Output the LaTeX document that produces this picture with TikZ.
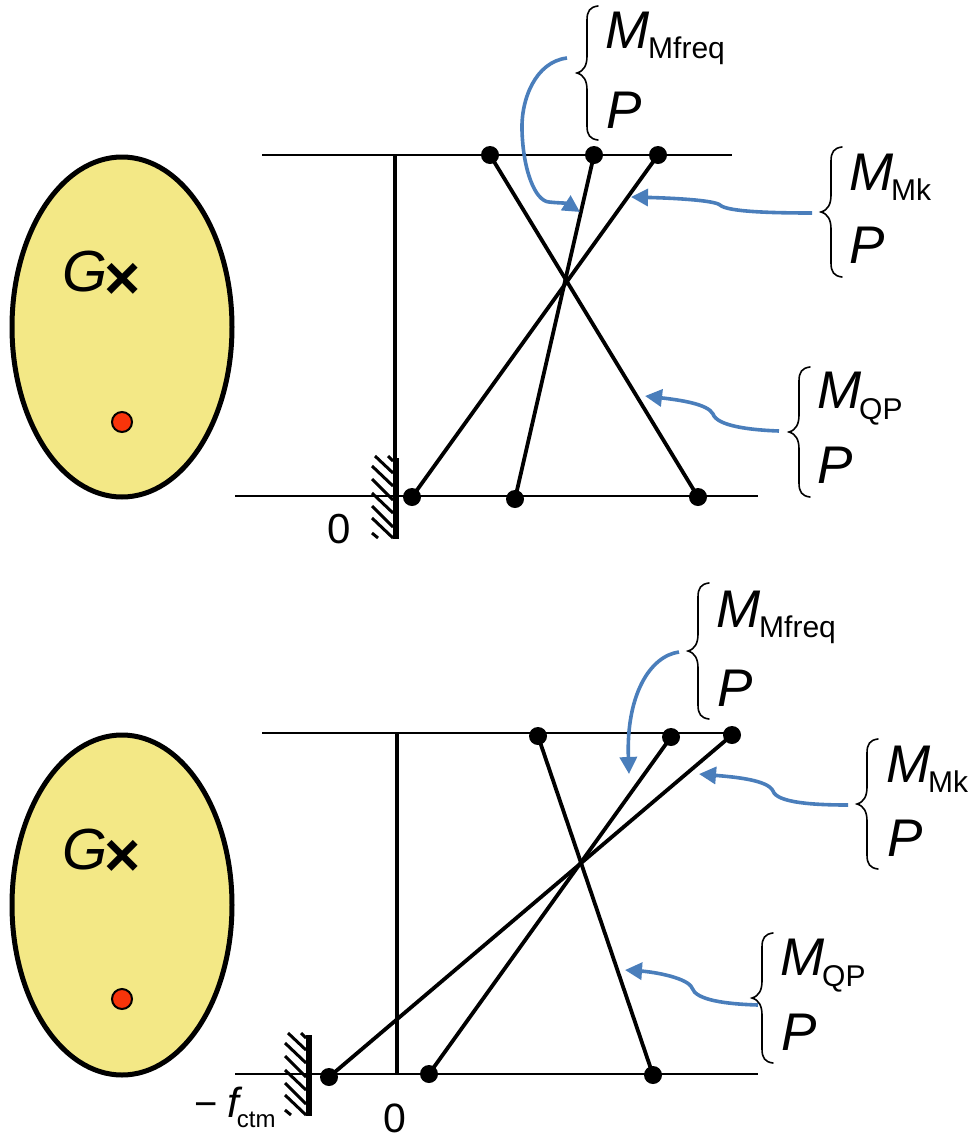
\documentclass[tikz,border=0pt]{standalone}
\usepackage{fontspec}
\setmainfont{Liberation Sans}
\usetikzlibrary{arrows.meta}
\definecolor{bodyfill}{HTML}{F3E886}
\definecolor{pointred}{HTML}{F8340A}
\definecolor{arrowblue}{HTML}{4A7EBB}
\tikzset{
  x=1pt,y=-1pt,
  bodyshape/.style={draw=black,line width=5pt,fill=bodyfill},
  axisline/.style={line width=2.2pt},
  ray/.style={line width=3.8pt},
  optaxis/.style={line width=4pt},
  wall/.style={line width=6pt},
  hatchline/.style={line width=3pt},
  dotnode/.style={circle,fill=black,inner sep=0pt,minimum size=18pt},
  reddot/.style={circle,draw=black,line width=2pt,fill=pointred,inner sep=0pt,minimum size=20pt},
  callout/.style={draw=arrowblue,line width=3.6pt,-{Triangle[length=17pt,width=17pt]}},
  bracestyle/.style={line width=1.6pt,line cap=round},
  label/.style={inner sep=0pt,anchor=base west,font=\fontsize{53}{53}\selectfont\itshape},
  biglabel/.style={inner sep=0pt,anchor=base west,font=\fontsize{58}{58}\selectfont\itshape},
  crossmark/.style={inner sep=0pt,font=\fontsize{62}{62}\selectfont\bfseries},
  plainlabel/.style={inner sep=0pt,anchor=base west,font=\fontsize{42}{42}\selectfont},
  sublabel/.style={inner sep=0pt,anchor=base west,font=\fontsize{30}{30}\selectfont},
}
\newcommand{\brk}[3]{% tip x, tip y, half height
  \draw[bracestyle,shift={(#1,#2)}] (21,-#3)
    .. controls (13,-#3+1) and (10,-#3+5) .. (10,-#3+14)
    -- (10,-17) .. controls (10,-8) and (7,-2) .. (0,0)
    .. controls (7,2) and (10,8) .. (10,17)
    -- (10,#3-14) .. controls (10,#3-5) and (13,#3-1) .. (21,#3);
}
\newcommand{\hatchset}[2]{% wall x, top y
  \begin{scope}[shift={(#1,0)}]
    \draw[hatchline] (-8,#2) -- (-3,#2+5);
    \draw[hatchline] (-21,#2) -- (-3,#2+17);
    \draw[hatchline] (-24,#2+10) -- (-3,#2+30);
    \draw[hatchline] (-24,#2+23) -- (-3,#2+44);
    \draw[hatchline] (-24,#2+37) -- (-3,#2+57);
    \draw[hatchline] (-24,#2+50) -- (-3,#2+71);
    \draw[hatchline] (-24,#2+62) -- (-3,#2+82);
    \draw[hatchline] (-24,#2+77) -- (-18,#2+82);
  \end{scope}
}
\begin{document}
\begin{tikzpicture}
\useasboundingbox (0,0) rectangle (967,1138);

% ---------- upper diagram ----------
\draw[bodyshape] (122,327) ellipse [x radius=110,y radius=170];
\node[biglabel] (g1) at (62,291) {G};
\node[crossmark] (x1) at (122.5,281) {×};
\node[reddot] (r1) at (122,422) {};

\coordinate (a1l) at (262,155); \coordinate (a1r) at (732,155);
\coordinate (b1l) at (235,496); \coordinate (b1r) at (758,496);
\draw[axisline] (a1l) -- (a1r);
\draw[axisline] (b1l) -- (b1r);
\coordinate (v1t) at (395,155); \coordinate (v1b) at (395,496);
\draw[optaxis] (v1t) -- (v1b);
\hatchset{396}{456}
\coordinate (w1t) at (396,458); \coordinate (w1b) at (396,539);
\draw[wall] (w1t) -- (w1b);

\node[dotnode] (t1a) at (490,155) {};
\node[dotnode] (t1b) at (594,155) {};
\node[dotnode] (t1c) at (658,155) {};
\node[dotnode] (u1a) at (412,497) {};
\node[dotnode] (u1b) at (515,499) {};
\node[dotnode] (u1c) at (698,497) {};
\draw[ray] (t1a.center) -- (u1c.center);
\draw[ray] (t1b.center) -- (u1b.center);
\draw[ray] (t1c.center) -- (u1a.center);

\node[plainlabel] (zero1) at (327,543) {0};

\brk{577}{73}{67}
\brk{821}{212}{65}
\brk{789}{432}{65}
\node[label] (m1a) at (605,48) {M};
\node[sublabel] (s1a) at (648,58) {Mfreq};
\node[label] (p1a) at (606,128) {P};
\node[label] (m1b) at (849,190) {M};
\node[sublabel] (s1b) at (891,200) {Mk};
\node[label] (p1b) at (849,263) {P};
\node[label] (m1c) at (817,408) {M};
\node[sublabel] (s1c) at (859,419) {QP};
\node[label] (p1c) at (817,483) {P};

\coordinate (c1as) at (567,58); \coordinate (c1ae) at (580,212);
\coordinate (c1bs) at (812,213); \coordinate (c1be) at (631,197);
\coordinate (c1cs) at (779,431); \coordinate (c1ce) at (645,396);
\draw[callout] (c1as) .. controls (535,62) and (521,100) .. (522,130)
  .. controls (523,170) and (535,201) .. (549,202)
  .. controls (558,203) and (566,203) .. (c1ae);
\draw[callout] (c1bs) .. controls (775,213) and (727,212) .. (720,205)
  .. controls (714,200) and (670,198) .. (c1be);
\draw[callout] (c1cs) .. controls (750,430) and (717,426) .. (713,414)
  .. controls (708,404) and (680,400) .. (c1ce);

% ---------- lower diagram ----------
\draw[bodyshape] (122,905) ellipse [x radius=110,y radius=170];
\node[biglabel] (g2) at (62,869) {G};
\node[crossmark] (x2) at (122.5,858) {×};
\node[reddot] (r2) at (122,999) {};

\coordinate (a2l) at (262,733); \coordinate (a2r) at (732,733);
\coordinate (b2l) at (235,1074); \coordinate (b2r) at (758,1074);
\draw[axisline] (a2l) -- (a2r);
\draw[axisline] (b2l) -- (b2r);
\coordinate (v2t) at (397,733); \coordinate (v2b) at (397,1074);
\draw[optaxis] (v2t) -- (v2b);
\hatchset{309}{1033}
\coordinate (w2t) at (309,1035); \coordinate (w2b) at (309,1116);
\draw[wall] (w2t) -- (w2b);

\node[dotnode] (t2a) at (538,736) {};
\node[dotnode] (t2b) at (671,737) {};
\node[dotnode] (t2c) at (732,735) {};
\node[dotnode] (u2a) at (329,1077) {};
\node[dotnode] (u2b) at (429,1074) {};
\node[dotnode] (u2c) at (653,1075) {};
\draw[ray] (t2a.center) -- (u2c.center);
\draw[ray] (t2b.center) -- (u2b.center);
\draw[ray] (t2c.center) -- (u2a.center);

\node[plainlabel,font=\fontsize{41}{41}\selectfont] (zero2) at (383,1132) {0};
\node[plainlabel,font=\fontsize{40}{40}\selectfont] (minus) at (194,1117) {−};
\node[inner sep=0pt,anchor=base west] (f2) at (227,1117)
  {\fontsize{42}{42}\selectfont\itshape f\hspace{-2pt}\raisebox{-10pt}{\fontsize{24}{24}\selectfont\upshape ctm}};

\brk{688}{651}{68}
\brk{857}{804}{65}
\brk{752}{998}{65}
\node[label] (m2a) at (716,627) {M};
\node[sublabel] (s2a) at (759,637) {Mfreq};
\node[label] (p2a) at (717,706) {P};
\node[label] (m2b) at (886,782) {M};
\node[sublabel] (s2b) at (928,792) {Mk};
\node[label] (p2b) at (887,856) {P};
\node[label] (m2c) at (780,975) {M};
\node[sublabel] (s2c) at (822,986) {QP};
\node[label] (p2c) at (781,1050) {P};

\coordinate (c2as) at (679,652); \coordinate (c2ae) at (629,774);
\coordinate (c2bs) at (848,805); \coordinate (c2be) at (699,774);
\coordinate (c2cs) at (758,1005); \coordinate (c2ce) at (625,970);
\draw[callout] (c2as) .. controls (650,656) and (626,695) .. (c2ae);
\draw[callout] (c2bs) .. controls (815,805) and (777,803) .. (773,791)
  .. controls (768,780) and (735,777) .. (c2be);
\draw[callout] (c2cs) .. controls (725,1004) and (696,1000) .. (692,988)
  .. controls (688,978) and (655,972) .. (c2ce);
\end{tikzpicture}
\end{document}
